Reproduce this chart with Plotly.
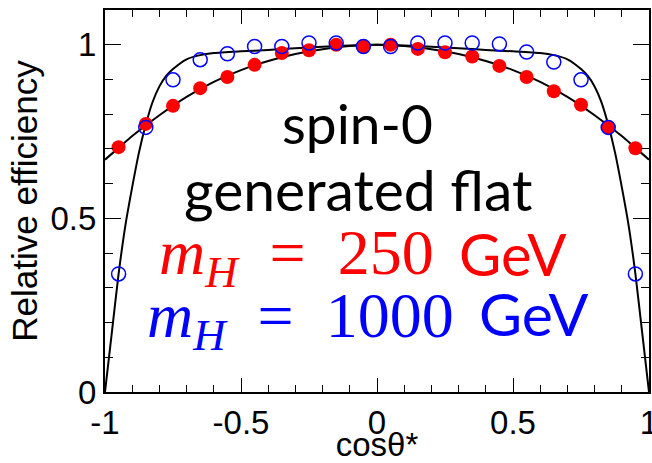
import plotly.graph_objects as go

# bin centres of cos(theta*)
bin_centers = [-0.95, -0.85, -0.75, -0.65, -0.55, -0.45, -0.35, -0.25, -0.15, -0.05,
               0.05, 0.15, 0.25, 0.35, 0.45, 0.55, 0.65, 0.75, 0.85, 0.95]
eff_250 = [0.705, 0.772, 0.824, 0.875, 0.907, 0.942, 0.976, 0.984, 1.000, 0.995,
           1.000, 0.988, 0.978, 0.966, 0.939, 0.907, 0.866, 0.827, 0.762, 0.702]
eff_1000 = [0.340, 0.762, 0.899, 0.957, 0.974, 0.995, 0.995, 1.005, 1.005, 0.995,
            0.995, 1.005, 1.005, 1.005, 1.002, 0.979, 0.950, 0.899, 0.762, 0.340]

# fitted curves
fit250_x = [-1.0, -0.95, -0.9, -0.8, -0.7, -0.6, -0.5, -0.4, -0.3, -0.2, -0.1, 0.0,
            0.1, 0.2, 0.3, 0.4, 0.5, 0.6, 0.7, 0.8, 0.9, 0.95, 1.0]
fit250_y = [0.669, 0.703, 0.737, 0.797, 0.850, 0.893, 0.927, 0.953, 0.973, 0.987, 0.996, 1.0,
            0.996, 0.987, 0.973, 0.953, 0.927, 0.893, 0.850, 0.797, 0.737, 0.703, 0.669]
fit1000_x = [-1.0, -0.975, -0.95, -0.925, -0.9, -0.875, -0.85, -0.825, -0.8, -0.775, -0.75,
             -0.7, -0.65, -0.6, -0.5, -0.4, -0.3, -0.2, -0.1, 0.0,
             0.1, 0.2, 0.3, 0.4, 0.5, 0.6, 0.65, 0.7,
             0.75, 0.775, 0.8, 0.825, 0.85, 0.875, 0.9, 0.925, 0.95, 0.975, 1.0]
fit1000_y = [0.0, 0.17, 0.34, 0.48, 0.59, 0.69, 0.77, 0.835, 0.88, 0.91, 0.93,
             0.958, 0.970, 0.976, 0.981, 0.985, 0.990, 0.994, 0.998, 1.0,
             0.998, 0.994, 0.990, 0.985, 0.981, 0.976, 0.970, 0.958,
             0.93, 0.91, 0.88, 0.835, 0.77, 0.69, 0.59, 0.48, 0.34, 0.17, 0.0]

x_ticks = [-1, -0.5, 0, 0.5, 1]
x_ticklabels = ["-1", "-0.5", "0", "0.5", "1"]
y_ticks = [0, 0.5, 1]
y_ticklabels = ["0", "0.5", "1"]

fig = go.Figure()
fig.add_trace(go.Scatter(x=fit250_x, y=fit250_y, mode="lines",
                         line=dict(color="black", width=2, shape="spline", smoothing=0.6),
                         showlegend=False, hoverinfo="skip"))
fig.add_trace(go.Scatter(x=fit1000_x, y=fit1000_y, mode="lines",
                         line=dict(color="black", width=2, shape="spline", smoothing=0.6),
                         showlegend=False, hoverinfo="skip"))
fig.add_trace(go.Scatter(x=bin_centers, y=eff_250, mode="markers",
                         marker=dict(symbol="circle", size=14, color="#ff0000",
                                     line=dict(width=0)),
                         showlegend=False))
fig.add_trace(go.Scatter(x=bin_centers, y=eff_1000, mode="markers",
                         marker=dict(symbol="circle-open", size=14, color="#0000ff",
                                     line=dict(width=1.5, color="#0000ff")),
                         showlegend=False))

sans = "Lato"
serif = "Liberation Serif"
gap = "\u2002"

fig.add_annotation(x=-0.07, y=0.775, xref="x", yref="y", text="spin-0",
                   showarrow=False, xanchor="center", yanchor="middle",
                   font=dict(family=sans, size=55, color="black"))
fig.add_annotation(x=-0.07, y=0.585, xref="x", yref="y", text="generated flat",
                   showarrow=False, xanchor="center", yanchor="middle",
                   font=dict(family=sans, size=57, color="black"))

# m_H = 250 GeV
fig.add_annotation(x=0.218, y=0.389, xref="x", yref="y", showarrow=False,
                   xanchor="right", yanchor="middle",
                   text="<i>m</i><sub><i>H</i></sub>" + gap + "=" + gap + "250",
                   font=dict(family=serif, size=64, color="#ff0000"))
fig.add_annotation(x=0.293, y=0.400, xref="x", yref="y", showarrow=False,
                   xanchor="left", yanchor="middle", text="GeV",
                   font=dict(family=sans, size=58, color="#ff0000"))
# m_H = 1000 GeV
fig.add_annotation(x=0.29, y=0.207, xref="x", yref="y", showarrow=False,
                   xanchor="right", yanchor="middle",
                   text="<i>m</i><sub><i>H</i></sub>" + gap + "=" + gap + "1000",
                   font=dict(family=serif, size=64, color="#0000ff"))
fig.add_annotation(x=0.368, y=0.225, xref="x", yref="y", showarrow=False,
                   xanchor="left", yanchor="middle", text="GeV",
                   font=dict(family=sans, size=59, color="#0000ff"))

axis_common = dict(showline=True, linecolor="black", linewidth=2, mirror="allticks",
                   ticks="inside", tickcolor="black", tickwidth=1, showgrid=False,
                   zeroline=False, ticklabeloverflow="allow", automargin=False,
                   tickfont=dict(family="Liberation Sans", size=33, color="black"))
fig.update_xaxes(range=[-1, 1], tickvals=x_ticks, ticktext=x_ticklabels, ticklen=14,
                 minor=dict(ticks="inside", dtick=0.1, ticklen=7, tickcolor="black", tickwidth=1),
                 title=dict(text="cosθ*", font=dict(family="Liberation Sans", size=33, color="black"),
                            standoff=5),
                 **axis_common)
fig.update_yaxes(range=[0, 1.1], tickvals=y_ticks, ticktext=y_ticklabels, ticklen=16,
                 minor=dict(ticks="inside", dtick=0.1, ticklen=8, tickcolor="black", tickwidth=1),
                 title=dict(text="Relative efficiency",
                            font=dict(family="Liberation Sans", size=35, color="black"),
                            standoff=2),
                 **axis_common)

fig.update_layout(width=652, height=463, margin=dict(l=105, r=3, t=10, b=71),
                  paper_bgcolor="white", plot_bgcolor="white")
fig.write_html("out.html")
